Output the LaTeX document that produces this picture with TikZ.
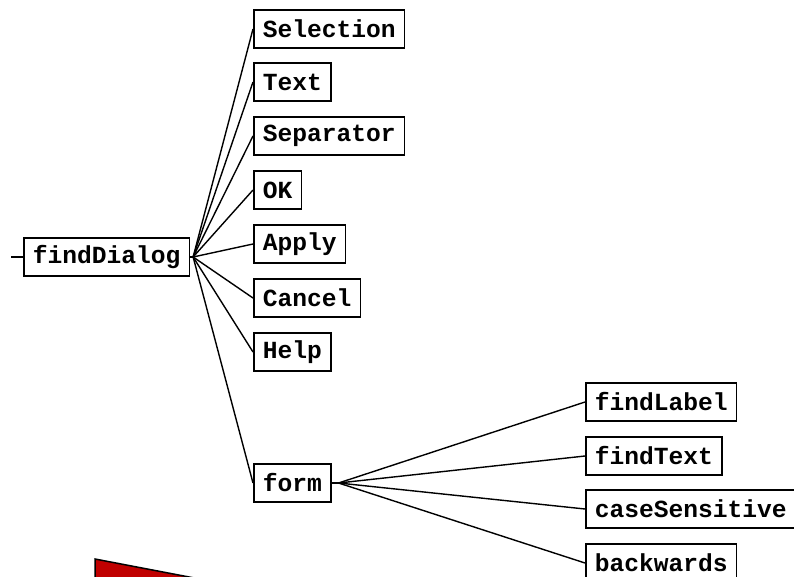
\documentclass[tikz,border=0pt]{standalone}
\usepackage{fontspec}
\setmonofont{Liberation Mono}
\definecolor{darkred}{RGB}{192,0,0}
\begin{document}
\begin{tikzpicture}[x=1pt,y=-1pt,
  box/.style={draw, line width=1.5pt, font=\ttfamily\bfseries\fontsize{24.6}{24.6}\selectfont,
    inner xsep=9pt, inner ysep=0pt, minimum height=38pt, anchor=west},
  link/.style={line width=1.4pt}]
\useasboundingbox (0,0) rectangle (794,577);
\begin{scope}
\clip (0,0) rectangle (794,577);
\node[box] (fd) at (23,257) {findDialog};
\node[box] (sel) at (253,29) {Selection};
\node[box] (txt) at (253,82) {Text};
\node[box] (sep) at (253,136) {Separator};
\node[box] (ok) at (253,190) {OK};
\node[box] (app) at (253,244) {Apply};
\node[box] (can) at (253,298) {Cancel};
\node[box] (hlp) at (253,352) {Help};
\node[box] (frm) at (253,483) {form};
\node[box] (fl) at (585,402) {findLabel};
\node[box] (ft) at (585,456) {findText};
\node[box] (cs) at (585,509) {caseSensitive};
\node[box] (bw) at (585,563) {backwards};
\coordinate (in) at (11,257);
\draw[link] (in) -- (fd.west);
\foreach \c in {sel,txt,sep,ok,app,can,hlp,frm}
  \draw[link] (fd.east) -- ++(3,0) -- (\c.west);
\foreach \c in {fl,ft,cs,bw}
  \draw[link] (frm.east) -- ++(7,0) -- (\c.west);
\draw[fill=darkred, line width=1.5pt] (95,559) -- (210,581) -- (210,600) -- (95,600) -- cycle;
\end{scope}
\end{tikzpicture}
\end{document}
